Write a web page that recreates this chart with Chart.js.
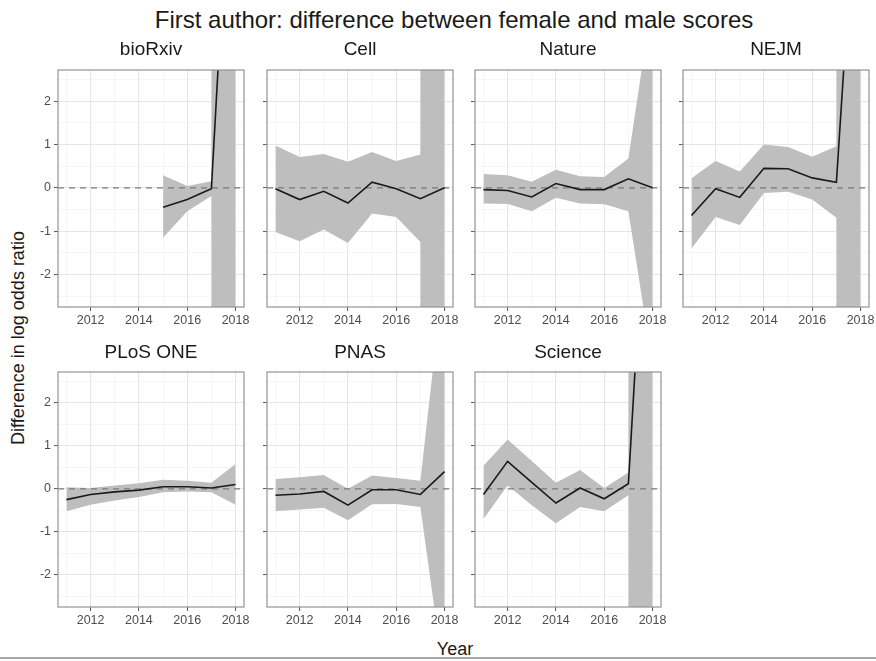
<!DOCTYPE html>
<html>
<head>
<meta charset="utf-8">
<script src="https://cdn.jsdelivr.net/npm/chart.js@4.4.1/dist/chart.umd.min.js"></script>
<style>
  body { margin: 0; background: #fff; width: 876px; height: 661px; position: relative; overflow: hidden;
         font-family: "Liberation Sans", Arial, sans-serif; }
  .txt { position: absolute; white-space: nowrap; color: #1a1a1a; line-height: 1; }
  canvas { position: absolute; }
  #baseLine { position: absolute; left: 0; top: 657px; width: 876px; height: 2px; background: #a8a8a8; }
</style>
</head>
<body>
<div class="txt" id="title" style="left:454px; top:20px; font-size:24px; transform:translate(-50%,-50%);">First author: difference between female and male scores</div>
<div class="txt" id="yTitle" style="left:18px; top:338px; font-size:18px; transform:translate(-50%,-50%) rotate(-90deg);">Difference in log odds ratio</div>
<div class="txt" id="xTitle" style="left:455px; top:649px; font-size:18px; transform:translate(-50%,-50%);">Year</div>
<div id="baseLine"></div>

<script>
// facet data
const years = [2011, 2012, 2013, 2014, 2015, 2016, 2017, 2018];
const journals = ['bioRxiv', 'Cell', 'Nature', 'NEJM', 'PLoS ONE', 'PNAS', 'Science'];
const xTickLabels = [2012, 2014, 2016, 2018];
const yTickLabels = [-2, -1, 0, 1, 2];
const yGridValues = [-2.5, -2, -1.5, -1, -0.5, 0, 0.5, 1, 1.5, 2, 2.5];

const bioRxivMean  = [null, null, null, null, -0.45, -0.27, -0.02, 10];
const bioRxivUpper = [null, null, null, null, 0.29, 0.04, 0.15, 600];
const bioRxivLower = [null, null, null, null, -1.15, -0.54, -0.19, -600];

const cellMean  = [-0.02, -0.27, -0.08, -0.35, 0.13, -0.02, -0.25, 0.0];
const cellUpper = [0.98, 0.71, 0.78, 0.60, 0.83, 0.62, 0.77, 600];
const cellLower = [-1.02, -1.23, -0.96, -1.27, -0.59, -0.67, -1.25, -600];

const natureMean  = [-0.04, -0.06, -0.21, 0.10, -0.04, -0.04, 0.21, 0.0];
const natureUpper = [0.32, 0.29, 0.14, 0.42, 0.27, 0.25, 0.68, 4.4];
const natureLower = [-0.36, -0.37, -0.54, -0.23, -0.36, -0.38, -0.54, -4.1];

const nejmMean  = [-0.64, -0.02, -0.22, 0.45, 0.44, 0.23, 0.13, 8.7];
const nejmUpper = [0.22, 0.62, 0.38, 1.00, 0.94, 0.72, 0.96, 600];
const nejmLower = [-1.40, -0.67, -0.86, -0.12, -0.09, -0.27, -0.69, -600];

const plosMean  = [-0.25, -0.13, -0.07, -0.03, 0.05, 0.05, 0.02, 0.10];
const plosUpper = [0.04, 0.02, 0.08, 0.13, 0.21, 0.19, 0.14, 0.58];
const plosLower = [-0.52, -0.37, -0.27, -0.19, -0.08, -0.06, -0.08, -0.37];

const pnasMean  = [-0.15, -0.12, -0.06, -0.38, -0.02, -0.02, -0.13, 0.40];
const pnasUpper = [0.23, 0.27, 0.32, 0.00, 0.31, 0.25, 0.19, 5.2];
const pnasLower = [-0.52, -0.48, -0.44, -0.73, -0.36, -0.35, -0.42, -4.5];

const scienceMean  = [-0.13, 0.64, 0.15, -0.33, 0.02, -0.23, 0.12, 9.7];
const scienceUpper = [0.54, 1.15, 0.65, 0.14, 0.44, 0.02, 0.38, 600];
const scienceLower = [-0.70, 0.08, -0.38, -0.80, -0.42, -0.52, -0.15, -600];

const meanSeries  = [bioRxivMean, cellMean, natureMean, nejmMean, plosMean, pnasMean, scienceMean];
const upperSeries = [bioRxivUpper, cellUpper, natureUpper, nejmUpper, plosUpper, pnasUpper, scienceUpper];
const lowerSeries = [bioRxivLower, cellLower, natureLower, nejmLower, plosLower, pnasLower, scienceLower];

// axis limits (ggplot default 5% expansion)
const X_MIN = 2010.65, X_MAX = 2018.35;
const Y_MIN = -2.75, Y_MAX = 2.72;

// layout of the facet grid
const panelLeft = [58, 267, 475, 683];
const panelTop = [70, 372];
const panelW = 186;
const panelH = [237, 235];
const stripY = [48, 351];
const padTop = 12, padRight = 12, xAxisH = 24;
const FONT = '"Liberation Sans", Arial, sans-serif';

const toPoints = arr => years.map((yr, i) => ({ x: yr, y: arr[i] })).filter(p => p.y !== null);

const panelBorder = {
    id: 'panelBorder',
    afterDatasetsDraw(chart) {
        const a = chart.chartArea;
        const ctx = chart.ctx;
        ctx.save();
        ctx.strokeStyle = '#939393';
        ctx.lineWidth = 1.2;
        ctx.strokeRect(a.left, a.top, a.right - a.left, a.bottom - a.top);
        ctx.restore();
    }
};

journals.forEach((name, i) => {
    const col = i % 4;
    const row = Math.floor(i / 4);
    const axisW = col === 0 ? 40 : 12;

    const canvas = document.createElement('canvas');
    canvas.width = axisW + panelW + padRight;
    canvas.height = padTop + panelH[row] + xAxisH;
    canvas.style.left = (panelLeft[col] - axisW) + 'px';
    canvas.style.top = (panelTop[row] - padTop) + 'px';
    document.body.appendChild(canvas);

    const strip = document.createElement('div');
    strip.className = 'txt';
    strip.textContent = name;
    strip.style.fontSize = '19px';
    strip.style.left = (panelLeft[col] + panelW / 2) + 'px';
    strip.style.top = stripY[row] + 'px';
    strip.style.transform = 'translate(-50%,-50%)';
    document.body.appendChild(strip);

    new Chart(canvas, {
        type: 'line',
        data: {
            datasets: [
                {
                    data: toPoints(meanSeries[i]),
                    borderColor: '#1a1a1a',
                    borderWidth: 1.6,
                    pointRadius: 0,
                    fill: false,
                    order: 0
                },
                {
                    data: [{ x: X_MIN, y: 0 }, { x: X_MAX, y: 0 }],
                    borderColor: '#7a7a7a',
                    borderWidth: 1.4,
                    borderDash: [6, 5],
                    pointRadius: 0,
                    fill: false,
                    order: 1
                },
                {
                    data: toPoints(upperSeries[i]),
                    borderWidth: 0,
                    borderColor: 'rgba(0,0,0,0)',
                    backgroundColor: '#bebebe',
                    pointRadius: 0,
                    fill: 3,
                    order: 2
                },
                {
                    data: toPoints(lowerSeries[i]),
                    borderWidth: 0,
                    borderColor: 'rgba(0,0,0,0)',
                    pointRadius: 0,
                    fill: false,
                    order: 3
                }
            ]
        },
        options: {
            responsive: false,
            animation: false,
            events: [],
            layout: { padding: { top: padTop, right: padRight, left: 0, bottom: 0 } },
            plugins: { legend: { display: false }, tooltip: { enabled: false } },
            scales: {
                x: {
                    type: 'linear',
                    min: X_MIN,
                    max: X_MAX,
                    afterBuildTicks: s => { s.ticks = years.map(v => ({ value: v })); },
                    afterFit: s => { s.height = xAxisH; },
                    ticks: {
                        autoSkip: false,
                        maxRotation: 0,
                        minRotation: 0,
                        padding: 2,
                        color: '#4d4d4d',
                        font: { family: FONT, size: 12.5 },
                        callback: v => xTickLabels.includes(v) ? String(v) : ''
                    },
                    grid: {
                        color: c => (c.tick && c.tick.value % 2 === 0) ? '#e6e6e6' : '#f2f2f2',
                        lineWidth: c => (c.tick && c.tick.value % 2 === 0) ? 1.1 : 0.7,
                        tickLength: 4,
                        tickWidth: 1,
                        tickColor: c => (c.tick && c.tick.value % 2 === 0) ? '#555' : 'rgba(0,0,0,0)'
                    },
                    border: { display: false }
                },
                y: {
                    type: 'linear',
                    min: Y_MIN,
                    max: Y_MAX,
                    afterBuildTicks: s => { s.ticks = yGridValues.map(v => ({ value: v })); },
                    afterFit: s => { s.width = axisW; },
                    ticks: {
                        display: col === 0,
                        padding: 3,
                        color: '#4d4d4d',
                        font: { family: FONT, size: 12.5 },
                        callback: v => yTickLabels.includes(v) ? String(v) : ''
                    },
                    grid: {
                        color: c => (c.tick && Number.isInteger(c.tick.value)) ? '#e6e6e6' : '#f2f2f2',
                        lineWidth: c => (c.tick && Number.isInteger(c.tick.value)) ? 1.1 : 0.7,
                        tickLength: 4,
                        tickWidth: 1,
                        tickColor: c => (c.tick && Number.isInteger(c.tick.value)) ? '#555' : 'rgba(0,0,0,0)'
                    },
                    border: { display: false }
                }
            }
        },
        plugins: [panelBorder]
    });
});
</script>
</body>
</html>
